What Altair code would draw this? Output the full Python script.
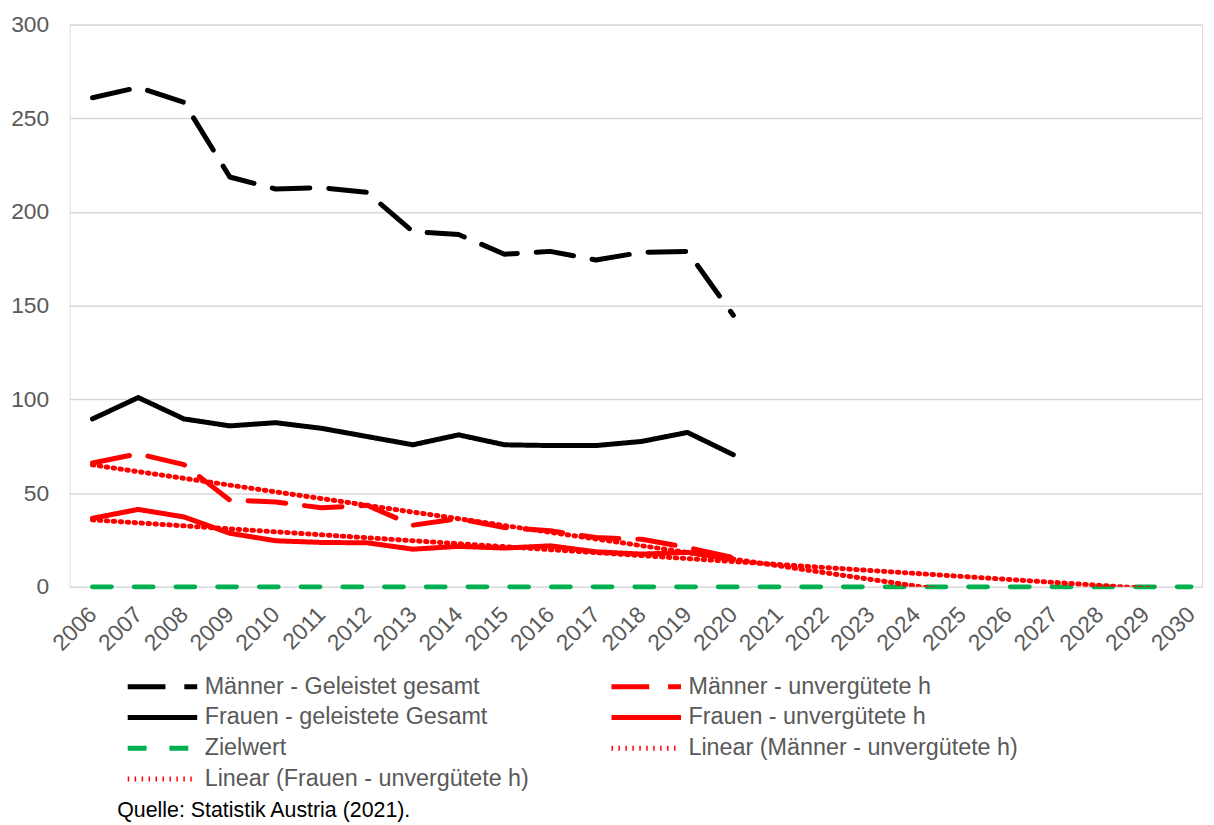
import altair as alt
import pandas as pd

years = list(range(2006, 2021))
all_years = list(range(2006, 2031))

maenner_gesamt = [261, 266.5, 258.5, 218.7, 212.3, 213, 210.5, 189.5, 188, 177.5, 179, 174.4, 178.5, 179, 144.9]
frauen_gesamt = [89.6, 101, 89.6, 85.9, 87.6, 84.6, 80.2, 75.8, 81.1, 75.8, 75.4, 75.4, 77.6, 82.4, 70.5]
maenner_unv = [66.1, 71, 65.2, 46.3, 45.3, 42.2, 43.5, 32.9, 36.4, 31.6, 29.9, 26.3, 25.4, 21, 15.7]
frauen_unv = [36.6, 41.3, 37.3, 28.6, 24.6, 23.7, 23.5, 20.1, 21.6, 20.7, 21.9, 18.7, 17.5, 18.4, 14.8]
zielwert = [0] * len(all_years)

series_names = [
    "Männer - Geleistet gesamt",
    "Männer - unvergütete h",
    "Frauen - geleistete Gesamt",
    "Frauen - unvergütete h",
    "Zielwert",
    "Linear (Männer - unvergütete h)",
    "Linear (Frauen - unvergütete h)",
]
series_colors = ["#000000", "#ff0000", "#000000", "#ff0000", "#00b050", "#ff0000", "#ff0000"]
series_dash = [[38, 19], [38, 19], [1, 0], [1, 0], [19, 23], [1.5, 5.5], [1.5, 5.5]]
series_width = [5, 5, 4.5, 4.5, 5, 3.5, 3.5]
source_note = ["Quelle: Statistik Austria (2021)."]

rows = []
for name, vals in [
    ("Männer - Geleistet gesamt", maenner_gesamt),
    ("Frauen - geleistete Gesamt", frauen_gesamt),
    ("Männer - unvergütete h", maenner_unv),
    ("Frauen - unvergütete h", frauen_unv),
]:
    for y, v in zip(years, vals):
        rows.append({"year": y, "value": v, "series": name})
for y, v in zip(all_years, zielwert):
    rows.append({"year": y, "value": v, "series": "Zielwert"})
df = pd.DataFrame(rows)

FONT = "Liberation Sans"

x_enc = alt.X(
    "year:Q",
    scale=alt.Scale(domain=[2005.5, 2030.24], nice=False, zero=False),
    axis=alt.Axis(
        values=all_years, format="d", labelAngle=-45, labelAlign="right",
        labelBaseline="middle", labelPadding=24, grid=False, ticks=False,
        tickSize=0, domain=False, title=None, labelFontSize=23,
        labelColor="#595959", labelFont=FONT, labelOverlap=False,
    ),
)
y_enc = alt.Y(
    "value:Q",
    scale=alt.Scale(domain=[0, 300], nice=False),
    axis=alt.Axis(
        values=[0, 50, 100, 150, 200, 250, 300], grid=True, gridColor="#d9d9d9",
        gridWidth=1.5, ticks=False, tickSize=0, domain=False, title=None,
        labelFontSize=23, labelColor="#595959", labelFont=FONT, labelPadding=21,
    ),
)

color_enc = alt.Color(
    "series:N",
    scale=alt.Scale(domain=series_names, range=series_colors),
    legend=alt.Legend(
        orient="none", legendX=56, legendY=655, columns=2, direction="horizontal",
        title=None, symbolType="stroke", symbolSize=4900, clipHeight=23,
        labelFontSize=23.5, labelColor="#595959", labelFont=FONT, labelOffset=5,
        columnPadding=80, rowPadding=7, labelLimit=600,
    ),
)
dash_enc = alt.StrokeDash(
    "series:N", scale=alt.Scale(domain=series_names, range=series_dash), legend=None
)
width_enc = alt.StrokeWidth(
    "series:N", scale=alt.Scale(domain=series_names, range=series_width), legend=None
)

base = alt.Chart(df)

lines = base.mark_line(strokeCap="round", strokeJoin="round").encode(
    x=x_enc, y=y_enc, color=color_enc, strokeDash=dash_enc, strokeWidth=width_enc,
    order=alt.Order("year:Q"),
)

trend = (
    base.transform_filter(
        alt.FieldOneOfPredicate(field="series", oneOf=["Männer - unvergütete h", "Frauen - unvergütete h"])
    )
    .transform_regression("year", "value", groupby=["series"], extent=[2006, 2030])
    .transform_calculate(series="'Linear (' + datum.series + ')'")
    .mark_line(strokeCap="round", clip=True)
    .encode(x=x_enc, y=y_enc, color=color_enc, strokeDash=dash_enc, strokeWidth=width_enc)
)

note = alt.Chart(pd.DataFrame({"t": source_note})).mark_text(
    align="left", baseline="alphabetic", fontSize=21.5, font=FONT, color="#000000"
).encode(text="t:N", x=alt.value(48), y=alt.value(798))

chart = (
    alt.layer(lines, trend, note)
    .properties(
        width=1140, height=566,
        autosize=alt.AutoSizeParams(type="none"),
        padding={"left": 62, "top": 14, "right": 4, "bottom": 237},
    )
    .configure_view(stroke=None)
    .configure(font=FONT)
)

chart.save("out.html", embed_options={"renderer": "svg", "actions": False})
